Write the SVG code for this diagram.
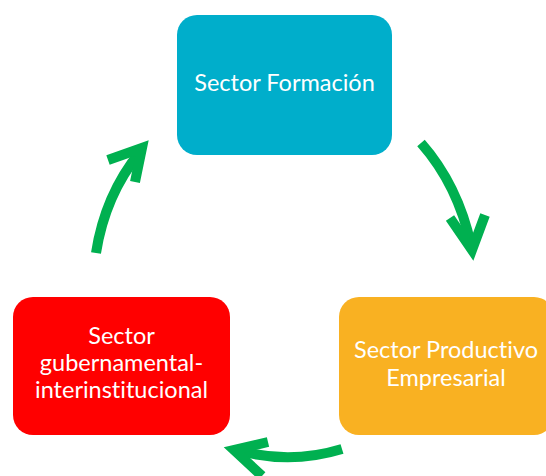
<svg xmlns="http://www.w3.org/2000/svg" width="546" height="476" viewBox="0 0 546 476">
<style>
.lbl{font-family:Lato,"Open Sans","Liberation Sans",sans-serif;font-size:23.5px;fill:#ffffff;text-anchor:middle;font-variant-ligatures:none}
.arr{fill:none;stroke:#00B050;stroke-width:10;stroke-linecap:butt;stroke-linejoin:miter}
</style>
<rect width="546" height="476" fill="#ffffff"/>
<g id="node-formacion">
<rect x="177" y="15" width="215" height="140" rx="20" fill="#00AECB"/>
<text class="lbl" x="284.5" y="91">Sector Formación</text>
</g>
<g id="node-productivo">
<rect x="339" y="297" width="215" height="138" rx="20" fill="#F9B122"/>
<text class="lbl" x="446" y="358">Sector Productivo</text>
<text class="lbl" x="446" y="386">Empresarial</text>
</g>
<g id="node-gubernamental">
<rect x="13" y="297" width="217" height="138" rx="20" fill="#FF0000"/>
<text class="lbl" x="121.5" y="344">Sector</text>
<text class="lbl" x="121.5" y="371">gubernamental-</text>
<text class="lbl" x="121.5" y="398">interinstitucional</text>
</g>
<g id="connectors">
<path class="arr" d="M421 143 Q458 185 471 245"/>
<polyline class="arr" points="450,218 472,250 485,215"/>
<path class="arr" d="M96 253 Q105 195 140 152"/>
<polyline class="arr" points="108,160 142,148 135,182"/>
<path class="arr" d="M342 449 Q290 465 236 450"/>
<polyline class="arr" points="268,442 234,450 262,476"/>
</g>
</svg>
